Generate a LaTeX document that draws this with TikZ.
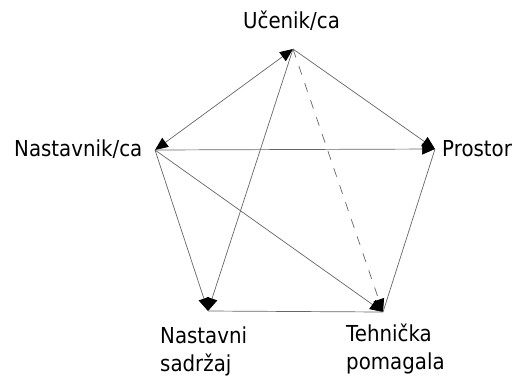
\documentclass[tikz,border=0pt]{standalone}
\usepackage{fontspec}
\setmainfont{DejaVu Sans}[FakeStretch=0.9]
\usetikzlibrary{arrows.meta}
\begin{document}
\begin{tikzpicture}[x=1pt,y=-1pt,
  lbl/.style={inner sep=0pt,font=\fontsize{22}{28}\selectfont},
  conn/.style={draw=black!60,line width=0.7pt},
  tip/.style={Triangle[length=13pt,width=11pt,fill=black,color=black]},
  arr/.style={conn,-{Triangle[length=13pt,width=11pt,fill=black,color=black]}},
  biarr/.style={conn,{Triangle[length=13pt,width=11pt,fill=black,color=black]}-{Triangle[length=13pt,width=11pt,fill=black,color=black]}},
  dasharr/.style={arr,dash pattern=on 9pt off 9pt}]
\useasboundingbox (0,0) rectangle (513,376);
\coordinate (U) at (293,49);
\coordinate (N) at (155,150);
\coordinate (P) at (435,149);
\coordinate (S) at (208,311);
\coordinate (T) at (383,312);
\node[lbl,anchor=base] (lu) at (291.5,28) {Učenik/ca};
\node[lbl,anchor=base west] (ln) at (14,156) {Nastavnik/ca};
\node[lbl,anchor=base west] (lp) at (442,156) {Prostor};
\node[lbl,anchor=base west,align=left] (ls) at (160,371) {Nastavni\\sadržaj};
\node[lbl,anchor=base west,align=left] (lt) at (346,369) {Tehnička\\pomagala};
\draw[biarr] (N) -- (U);
\draw[arr] (U) -- (P);
\draw[arr] (N) -- (P);
\draw[arr] (U) -- (S);
\draw[arr] (N) -- (S);
\draw[arr] (N) -- (T);
\draw[dasharr] (U) -- (T);
\draw[conn] (P) -- (T);
\draw[conn] (S) -- (T);
\end{tikzpicture}
\end{document}
